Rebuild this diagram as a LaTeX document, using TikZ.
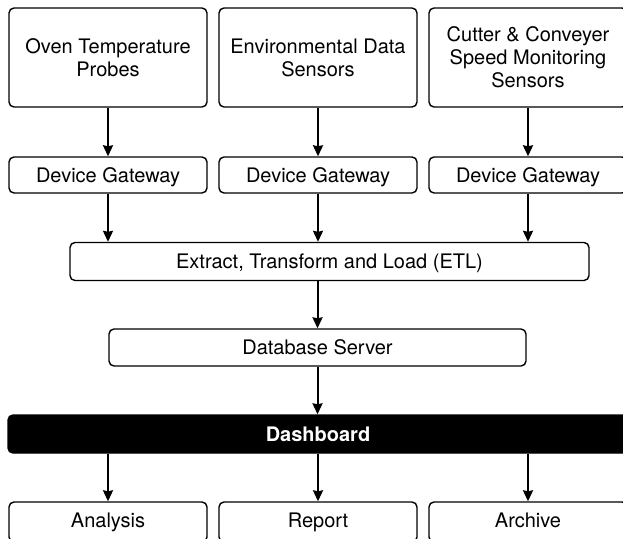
\documentclass[tikz,border=0pt]{standalone}
\usepackage{fontspec}
\setmainfont{TeX Gyre Heros}
\usetikzlibrary{arrows.meta}
\begin{document}
\begin{tikzpicture}[x=1pt,y=-1pt,
  box/.style={draw=black,line width=1.4pt,rounded corners=5pt,fill=white,align=center,
    inner sep=0pt,font=\fontsize{20}{23}\selectfont},
  onebox/.style={box,text height=14pt,text depth=0pt},
  darkbox/.style={box,fill=black,text=white,font=\fontsize{20}{23}\selectfont\bfseries},
  label/.style={inner sep=0pt,anchor=base,font=\fontsize{20}{23}\selectfont},
  link/.style={line width=2pt,-{Stealth[length=11pt,width=10pt,inset=1pt]}}]
\useasboundingbox (0,0) rectangle (623,538);
%sensors
\node[box,minimum width=198pt,minimum height=99pt] (oven) at (108,57.5) {Oven Temperature\\Probes};
\node[box,minimum width=198pt,minimum height=99pt] (env) at (318,57.5) {Environmental Data\\Sensors};
\node[box,minimum width=198pt,minimum height=99pt] (cutter) at (528,57.5) {Cutter \& Conveyer\\Speed Monitoring\\Sensors};
%gateways
\node[onebox,minimum width=198pt,minimum height=36pt] (gw1) at (108,175) {Device Gateway};
\node[onebox,minimum width=198pt,minimum height=36pt] (gw2) at (318,175) {Device Gateway};
\node[onebox,minimum width=198pt,minimum height=36pt] (gw3) at (528,175) {Device Gateway};
%etl and database
\node[onebox,minimum width=519pt,minimum height=38pt] (etl) at (329.5,261.5) {Extract, Transform and Load (ETL)};
\node[onebox,minimum width=417pt,minimum height=37pt] (db) at (317.5,347.5) {Database Server};
%dashboard
\node[darkbox,minimum width=632pt,minimum height=38pt] (dash) at (324,434) {};
\node[label,text=white,font=\fontsize{20}{23}\selectfont\bfseries] (dashlabel) at (318,441) {Dashboard};
%outputs
\node[box,minimum width=198pt,minimum height=40pt] (analysis) at (108,522) {};
\node[box,minimum width=198pt,minimum height=40pt] (report) at (318,522) {};
\node[box,minimum width=198pt,minimum height=40pt] (archive) at (528,522) {};
\node[label] (analysislabel) at (108,527) {Analysis};
\node[label] (reportlabel) at (318,527) {Report};
\node[label] (archivelabel) at (528,527) {Archive};
%arrows
\draw[link] (oven.south) -- (gw1.north);
\draw[link] (env.south) -- (gw2.north);
\draw[link] (cutter.south) -- (gw3.north);
\draw[link] (gw1.south) -- (gw1.south |- etl.north);
\draw[link] (gw2.south) -- (gw2.south |- etl.north);
\draw[link] (gw3.south) -- (gw3.south |- etl.north);
\draw[link] (db.north |- etl.south) -- (db.north);
\draw[link] (db.south) -- (db.south |- dash.north);
\draw[link] (analysis.north |- dash.south) -- (analysis.north);
\draw[link] (report.north |- dash.south) -- (report.north);
\draw[link] (archive.north |- dash.south) -- (archive.north);
\end{tikzpicture}
\end{document}
